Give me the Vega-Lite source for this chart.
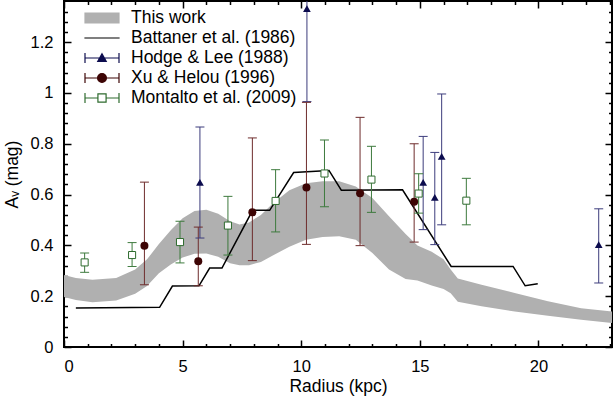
{
  "$schema": "https://vega.github.io/schema/vega-lite/v6.json",
  "width": 548,
  "height": 346,
  "autosize": {"type": "none"},
  "padding": {"left": 64, "top": 1, "right": 3, "bottom": 49},
  "background": "white",
  "config": {
    "view": {"stroke": "black", "strokeWidth": 2},
    "font": "Liberation Sans",
    "axis": {"domain": false, "grid": false, "labelFont": "Liberation Sans", "labelFontSize": 16.5, "labelColor": "black", "titleFont": "Liberation Sans", "titleFontSize": 17.5, "titleFontWeight": "normal", "titleColor": "black", "tickColor": "black", "tickWidth": 1.5},
    "legend": {"orient": "none", "legendX": 20, "legendY": 9, "padding": 0, "clipHeight": 16, "rowPadding": 2, "labelOffset": 11, "labelFont": "Liberation Sans", "labelFontSize": 17.5, "labelColor": "black", "labelLimit": 400, "symbolSize": 1156, "symbolStrokeWidth": 1.2, "title": null}
  },
  "datasets": {
    "band": [
      {"x": 0, "lo": 0.197, "hi": 0.283},
      {"x": 0.5, "lo": 0.185, "hi": 0.272},
      {"x": 1.2, "lo": 0.176, "hi": 0.265},
      {"x": 2.2, "lo": 0.183, "hi": 0.272},
      {"x": 3.0, "lo": 0.21, "hi": 0.305},
      {"x": 3.5, "lo": 0.24, "hi": 0.345},
      {"x": 4.0, "lo": 0.29, "hi": 0.405},
      {"x": 4.5, "lo": 0.325, "hi": 0.46},
      {"x": 5.0, "lo": 0.352, "hi": 0.507},
      {"x": 5.5, "lo": 0.367, "hi": 0.535},
      {"x": 6.0, "lo": 0.368, "hi": 0.54},
      {"x": 6.5, "lo": 0.355, "hi": 0.525},
      {"x": 7.0, "lo": 0.33, "hi": 0.495},
      {"x": 7.4, "lo": 0.322, "hi": 0.482},
      {"x": 7.8, "lo": 0.322, "hi": 0.49},
      {"x": 8.3, "lo": 0.335, "hi": 0.52},
      {"x": 8.8, "lo": 0.36, "hi": 0.565},
      {"x": 9.5, "lo": 0.395, "hi": 0.617},
      {"x": 10.2, "lo": 0.422, "hi": 0.645},
      {"x": 10.9, "lo": 0.433, "hi": 0.652},
      {"x": 11.6, "lo": 0.436, "hi": 0.652},
      {"x": 12.3, "lo": 0.422, "hi": 0.632},
      {"x": 13.0, "lo": 0.37, "hi": 0.587},
      {"x": 13.7, "lo": 0.305, "hi": 0.515},
      {"x": 14.4, "lo": 0.268, "hi": 0.445},
      {"x": 14.9, "lo": 0.262, "hi": 0.4},
      {"x": 15.5, "lo": 0.242, "hi": 0.375},
      {"x": 16.0, "lo": 0.228, "hi": 0.345},
      {"x": 16.3, "lo": 0.212, "hi": 0.305},
      {"x": 16.6, "lo": 0.178, "hi": 0.27},
      {"x": 17.6, "lo": 0.16, "hi": 0.245},
      {"x": 19.0, "lo": 0.14, "hi": 0.213},
      {"x": 20.4, "lo": 0.123, "hi": 0.18},
      {"x": 21.8, "lo": 0.107, "hi": 0.153},
      {"x": 23.1, "lo": 0.094, "hi": 0.14}
    ],
    "battaner": [
      {"x": 0.5, "y": 0.154},
      {"x": 4.03, "y": 0.156},
      {"x": 4.57, "y": 0.24},
      {"x": 5.69, "y": 0.241},
      {"x": 6.14, "y": 0.311},
      {"x": 6.66, "y": 0.311},
      {"x": 7.95, "y": 0.538},
      {"x": 8.67, "y": 0.538},
      {"x": 9.68, "y": 0.687},
      {"x": 11.17, "y": 0.695},
      {"x": 11.69, "y": 0.617},
      {"x": 14.27, "y": 0.619},
      {"x": 16.32, "y": 0.317},
      {"x": 18.93, "y": 0.317},
      {"x": 19.44, "y": 0.241},
      {"x": 19.97, "y": 0.249}
    ],
    "obs": [
      {"series": "Hodge & Lee (1988)", "x": 5.73, "y": 0.648, "lo": 0.429, "hi": 0.866},
      {"series": "Hodge & Lee (1988)", "x": 10.24, "y": 1.332, "lo": 0.966, "hi": 1.7},
      {"series": "Hodge & Lee (1988)", "x": 15.14, "y": 0.648, "lo": 0.462, "hi": 0.829},
      {"series": "Hodge & Lee (1988)", "x": 15.63, "y": 0.589, "lo": 0.403, "hi": 0.766},
      {"series": "Hodge & Lee (1988)", "x": 15.92, "y": 0.75, "lo": 0.481, "hi": 0.996},
      {"series": "Hodge & Lee (1988)", "x": 22.54, "y": 0.403, "lo": 0.252, "hi": 0.544},
      {"series": "Xu & Helou (1996)", "x": 3.39, "y": 0.399, "lo": 0.245, "hi": 0.649},
      {"series": "Xu & Helou (1996)", "x": 5.66, "y": 0.338, "lo": 0.241, "hi": 0.472},
      {"series": "Xu & Helou (1996)", "x": 7.94, "y": 0.53, "lo": 0.34, "hi": 0.823},
      {"series": "Xu & Helou (1996)", "x": 10.22, "y": 0.628, "lo": 0.404, "hi": 0.963},
      {"series": "Xu & Helou (1996)", "x": 12.48, "y": 0.605, "lo": 0.399, "hi": 0.904},
      {"series": "Xu & Helou (1996)", "x": 14.76, "y": 0.572, "lo": 0.413, "hi": 0.8},
      {"series": "Montalto et al. (2009)", "x": 0.87, "y": 0.333, "lo": 0.294, "hi": 0.37},
      {"series": "Montalto et al. (2009)", "x": 2.87, "y": 0.362, "lo": 0.317, "hi": 0.411},
      {"series": "Montalto et al. (2009)", "x": 4.89, "y": 0.413, "lo": 0.331, "hi": 0.495},
      {"series": "Montalto et al. (2009)", "x": 6.91, "y": 0.478, "lo": 0.362, "hi": 0.593},
      {"series": "Montalto et al. (2009)", "x": 8.92, "y": 0.575, "lo": 0.453, "hi": 0.698},
      {"series": "Montalto et al. (2009)", "x": 10.98, "y": 0.683, "lo": 0.552, "hi": 0.815},
      {"series": "Montalto et al. (2009)", "x": 12.96, "y": 0.659, "lo": 0.53, "hi": 0.79},
      {"series": "Montalto et al. (2009)", "x": 14.95, "y": 0.604, "lo": 0.527, "hi": 0.682},
      {"series": "Montalto et al. (2009)", "x": 16.96, "y": 0.576, "lo": 0.481, "hi": 0.664}
    ]
  },
  "resolve": {"axis": {"x": "independent", "y": "independent"}},
  "layer": [
    {
      "data": {"name": "band"},
      "mark": {"type": "area", "opacity": 1, "orient": "vertical"},
      "encoding": {
        "x": {"field": "x", "type": "quantitative", "scale": {"domain": [0, 23.1], "nice": false, "zero": false},
          "axis": {"orient": "bottom", "values": [0, 5, 10, 15, 20], "tickSize": -7, "labelPadding": 18, "title": "Radius (kpc)", "titlePadding": 3}},
        "y": {"field": "lo", "type": "quantitative", "scale": {"domain": [0, 1.362], "nice": false, "zero": false},
          "axis": {"orient": "left", "values": [0, 0.2, 0.4, 0.6, 0.8, 1, 1.2], "format": "~g", "tickSize": -7, "labelPadding": 18, "title": "Aᵥ  (mag)", "titlePadding": 9}},
        "y2": {"field": "hi"},
        "color": {"datum": "This work", "type": "nominal",
          "scale": {"domain": ["This work", "Battaner et al. (1986)", "Hodge & Lee (1988)", "Xu & Helou (1996)", "Montalto et al. (2009)"],
                    "range": ["#b0b0b0", "#000000", "#0c0c4e", "#3d0505", "#2e6b2e"]},
          "legend": {"title": null,
            "encode": {"symbols": {"update": {
              "shape": {"signal": "datum.value === 'This work' ? 'M-1,-0.29H1V0.29H-1Z' : datum.value === 'Battaner et al. (1986)' ? 'M-1,0H1' : datum.value === 'Hodge & Lee (1988)' ? 'M-1,0H1M-1,-0.26V0.26M1,-0.26V0.26M0,-0.25L0.25,0.2L-0.25,0.2Z' : datum.value === 'Xu & Helou (1996)' ? 'M-1,0H1M-1,-0.26V0.26M1,-0.26V0.26M0.26,0A0.26,0.26 0 1,1 -0.26,0A0.26,0.26 0 1,1 0.26,0Z' : 'M-1,0H-0.24M0.24,0H1M-1,-0.26V0.26M1,-0.26V0.26M-0.24,-0.24H0.24M0.24,-0.24V0.24M0.24,0.24H-0.24M-0.24,0.24V-0.24'"},
              "stroke": {"signal": "datum.value === 'This work' ? 'transparent' : datum.value === 'Battaner et al. (1986)' ? '#000000' : datum.value === 'Hodge & Lee (1988)' ? '#3c3c7c' : datum.value === 'Xu & Helou (1996)' ? '#6e2c2c' : '#2e6b2e'"},
              "strokeWidth": {"value": 1.2},
              "strokeCap": {"value": "square"},
              "size": {"value": 1156},
              "opacity": {"value": 1},
              "fillOpacity": {"value": 1},
              "strokeOpacity": {"value": 1}
            }}}
          }
        }
      }
    },
    {
      "data": {"name": "battaner"},
      "mark": {"type": "line", "strokeWidth": 1.5},
      "encoding": {
        "x": {"field": "x", "type": "quantitative", "axis": {"orient": "top", "values": [0, 5, 10, 15, 20], "tickSize": -7, "labels": false, "title": null}},
        "y": {"field": "y", "type": "quantitative", "axis": {"orient": "right", "values": [0, 0.2, 0.4, 0.6, 0.8, 1, 1.2], "tickSize": -7, "labels": false, "title": null}},
        "color": {"datum": "Battaner et al. (1986)", "type": "nominal",
          "legend": {"title": null,
            "encode": {"symbols": {"update": {
              "shape": {"signal": "datum.value === 'This work' ? 'M-1,-0.29H1V0.29H-1Z' : datum.value === 'Battaner et al. (1986)' ? 'M-1,0H1' : datum.value === 'Hodge & Lee (1988)' ? 'M-1,0H1M-1,-0.26V0.26M1,-0.26V0.26M0,-0.25L0.25,0.2L-0.25,0.2Z' : datum.value === 'Xu & Helou (1996)' ? 'M-1,0H1M-1,-0.26V0.26M1,-0.26V0.26M0.26,0A0.26,0.26 0 1,1 -0.26,0A0.26,0.26 0 1,1 0.26,0Z' : 'M-1,0H-0.24M0.24,0H1M-1,-0.26V0.26M1,-0.26V0.26M-0.24,-0.24H0.24M0.24,-0.24V0.24M0.24,0.24H-0.24M-0.24,0.24V-0.24'"},
              "stroke": {"signal": "datum.value === 'This work' ? 'transparent' : datum.value === 'Battaner et al. (1986)' ? '#000000' : datum.value === 'Hodge & Lee (1988)' ? '#3c3c7c' : datum.value === 'Xu & Helou (1996)' ? '#6e2c2c' : '#2e6b2e'"},
              "strokeWidth": {"value": 1.2},
              "strokeCap": {"value": "square"},
              "size": {"value": 1156},
              "opacity": {"value": 1},
              "fillOpacity": {"value": 1},
              "strokeOpacity": {"value": 1}
            }}}
          }
        }
      }
    },
    {
      "data": {"name": "obs"},
      "mark": {"type": "rule", "strokeWidth": 1, "clip": true},
      "encoding": {
        "x": {"field": "x", "type": "quantitative", "axis": {"orient": "bottom", "values": [1, 2, 3, 4, 6, 7, 8, 9, 11, 12, 13, 14, 16, 17, 18, 19, 21, 22, 23], "tickSize": -3.5, "labels": false, "title": null}},
        "y": {"field": "lo", "type": "quantitative", "axis": {"orient": "left", "values": [0.04, 0.08, 0.12, 0.16, 0.24, 0.28, 0.32, 0.36, 0.44, 0.48, 0.52, 0.56, 0.64, 0.68, 0.72, 0.76, 0.84, 0.88, 0.92, 0.96, 1.04, 1.08, 1.12, 1.16, 1.24, 1.28, 1.32], "tickSize": -3.5, "labels": false, "title": null}},
        "y2": {"field": "hi"},
        "stroke": {"field": "series", "type": "nominal", "scale": {"domain": ["Hodge & Lee (1988)", "Xu & Helou (1996)", "Montalto et al. (2009)"], "range": ["#3c3c7c", "#6e2c2c", "#3d7a3d"]}, "legend": null}
      }
    },
    {
      "data": {"name": "obs"},
      "mark": {"type": "tick", "orient": "horizontal", "size": 9, "thickness": 1, "opacity": 1, "clip": true},
      "encoding": {
        "x": {"field": "x", "type": "quantitative", "axis": {"orient": "top", "values": [1, 2, 3, 4, 6, 7, 8, 9, 11, 12, 13, 14, 16, 17, 18, 19, 21, 22, 23], "tickSize": -3.5, "labels": false, "title": null}},
        "y": {"field": "lo", "type": "quantitative", "axis": {"orient": "right", "values": [0.04, 0.08, 0.12, 0.16, 0.24, 0.28, 0.32, 0.36, 0.44, 0.48, 0.52, 0.56, 0.64, 0.68, 0.72, 0.76, 0.84, 0.88, 0.92, 0.96, 1.04, 1.08, 1.12, 1.16, 1.24, 1.28, 1.32], "tickSize": -3.5, "labels": false, "title": null}},
        "fill": {"field": "series", "type": "nominal", "scale": {"domain": ["Hodge & Lee (1988)", "Xu & Helou (1996)", "Montalto et al. (2009)"], "range": ["#3c3c7c", "#6e2c2c", "#3d7a3d"]}, "legend": null}
      }
    },
    {
      "data": {"name": "obs"},
      "mark": {"type": "tick", "orient": "horizontal", "size": 9, "thickness": 1, "opacity": 1, "clip": true},
      "encoding": {
        "x": {"field": "x", "type": "quantitative", "axis": null},
        "y": {"field": "hi", "type": "quantitative", "axis": null},
        "fill": {"field": "series", "type": "nominal", "legend": null}
      }
    },
    {
      "data": {"name": "obs"},
      "transform": [{"filter": "datum.series === 'Hodge & Lee (1988)'"}],
      "mark": {"type": "point", "shape": "triangle-up", "filled": true, "size": 60, "opacity": 1},
      "encoding": {
        "x": {"field": "x", "type": "quantitative", "axis": null},
        "y": {"field": "y", "type": "quantitative", "axis": null},
        "color": {"field": "series", "type": "nominal",
          "legend": {"title": null,
            "encode": {"symbols": {"update": {
              "shape": {"signal": "datum.value === 'This work' ? 'M-1,-0.29H1V0.29H-1Z' : datum.value === 'Battaner et al. (1986)' ? 'M-1,0H1' : datum.value === 'Hodge & Lee (1988)' ? 'M-1,0H1M-1,-0.26V0.26M1,-0.26V0.26M0,-0.25L0.25,0.2L-0.25,0.2Z' : datum.value === 'Xu & Helou (1996)' ? 'M-1,0H1M-1,-0.26V0.26M1,-0.26V0.26M0.26,0A0.26,0.26 0 1,1 -0.26,0A0.26,0.26 0 1,1 0.26,0Z' : 'M-1,0H-0.24M0.24,0H1M-1,-0.26V0.26M1,-0.26V0.26M-0.24,-0.24H0.24M0.24,-0.24V0.24M0.24,0.24H-0.24M-0.24,0.24V-0.24'"},
              "stroke": {"signal": "datum.value === 'This work' ? 'transparent' : datum.value === 'Battaner et al. (1986)' ? '#000000' : datum.value === 'Hodge & Lee (1988)' ? '#3c3c7c' : datum.value === 'Xu & Helou (1996)' ? '#6e2c2c' : '#2e6b2e'"},
              "strokeWidth": {"value": 1.2},
              "strokeCap": {"value": "square"},
              "size": {"value": 1156},
              "opacity": {"value": 1},
              "fillOpacity": {"value": 1},
              "strokeOpacity": {"value": 1}
            }}}
          }
        }
      }
    },
    {
      "data": {"name": "obs"},
      "transform": [{"filter": "datum.series === 'Xu & Helou (1996)'"}],
      "mark": {"type": "point", "shape": "circle", "filled": true, "size": 64, "opacity": 1},
      "encoding": {
        "x": {"field": "x", "type": "quantitative", "axis": null},
        "y": {"field": "y", "type": "quantitative", "axis": null},
        "color": {"field": "series", "type": "nominal",
          "legend": {"title": null,
            "encode": {"symbols": {"update": {
              "shape": {"signal": "datum.value === 'This work' ? 'M-1,-0.29H1V0.29H-1Z' : datum.value === 'Battaner et al. (1986)' ? 'M-1,0H1' : datum.value === 'Hodge & Lee (1988)' ? 'M-1,0H1M-1,-0.26V0.26M1,-0.26V0.26M0,-0.25L0.25,0.2L-0.25,0.2Z' : datum.value === 'Xu & Helou (1996)' ? 'M-1,0H1M-1,-0.26V0.26M1,-0.26V0.26M0.26,0A0.26,0.26 0 1,1 -0.26,0A0.26,0.26 0 1,1 0.26,0Z' : 'M-1,0H-0.24M0.24,0H1M-1,-0.26V0.26M1,-0.26V0.26M-0.24,-0.24H0.24M0.24,-0.24V0.24M0.24,0.24H-0.24M-0.24,0.24V-0.24'"},
              "stroke": {"signal": "datum.value === 'This work' ? 'transparent' : datum.value === 'Battaner et al. (1986)' ? '#000000' : datum.value === 'Hodge & Lee (1988)' ? '#3c3c7c' : datum.value === 'Xu & Helou (1996)' ? '#6e2c2c' : '#2e6b2e'"},
              "strokeWidth": {"value": 1.2},
              "strokeCap": {"value": "square"},
              "size": {"value": 1156},
              "opacity": {"value": 1},
              "fillOpacity": {"value": 1},
              "strokeOpacity": {"value": 1}
            }}}
          }
        }
      }
    },
    {
      "data": {"name": "obs"},
      "transform": [{"filter": "datum.series === 'Montalto et al. (2009)'"}],
      "mark": {"type": "point", "shape": "square", "filled": false, "fill": "white", "size": 50, "strokeWidth": 1, "opacity": 1},
      "encoding": {
        "x": {"field": "x", "type": "quantitative", "axis": null},
        "y": {"field": "y", "type": "quantitative", "axis": null},
        "color": {"field": "series", "type": "nominal",
          "legend": {"title": null,
            "encode": {"symbols": {"update": {
              "shape": {"signal": "datum.value === 'This work' ? 'M-1,-0.29H1V0.29H-1Z' : datum.value === 'Battaner et al. (1986)' ? 'M-1,0H1' : datum.value === 'Hodge & Lee (1988)' ? 'M-1,0H1M-1,-0.26V0.26M1,-0.26V0.26M0,-0.25L0.25,0.2L-0.25,0.2Z' : datum.value === 'Xu & Helou (1996)' ? 'M-1,0H1M-1,-0.26V0.26M1,-0.26V0.26M0.26,0A0.26,0.26 0 1,1 -0.26,0A0.26,0.26 0 1,1 0.26,0Z' : 'M-1,0H-0.24M0.24,0H1M-1,-0.26V0.26M1,-0.26V0.26M-0.24,-0.24H0.24M0.24,-0.24V0.24M0.24,0.24H-0.24M-0.24,0.24V-0.24'"},
              "stroke": {"signal": "datum.value === 'This work' ? 'transparent' : datum.value === 'Battaner et al. (1986)' ? '#000000' : datum.value === 'Hodge & Lee (1988)' ? '#3c3c7c' : datum.value === 'Xu & Helou (1996)' ? '#6e2c2c' : '#2e6b2e'"},
              "strokeWidth": {"value": 1.2},
              "strokeCap": {"value": "square"},
              "size": {"value": 1156},
              "opacity": {"value": 1},
              "fillOpacity": {"value": 1},
              "strokeOpacity": {"value": 1}
            }}}
          }
        }
      }
    }
  ]
}
